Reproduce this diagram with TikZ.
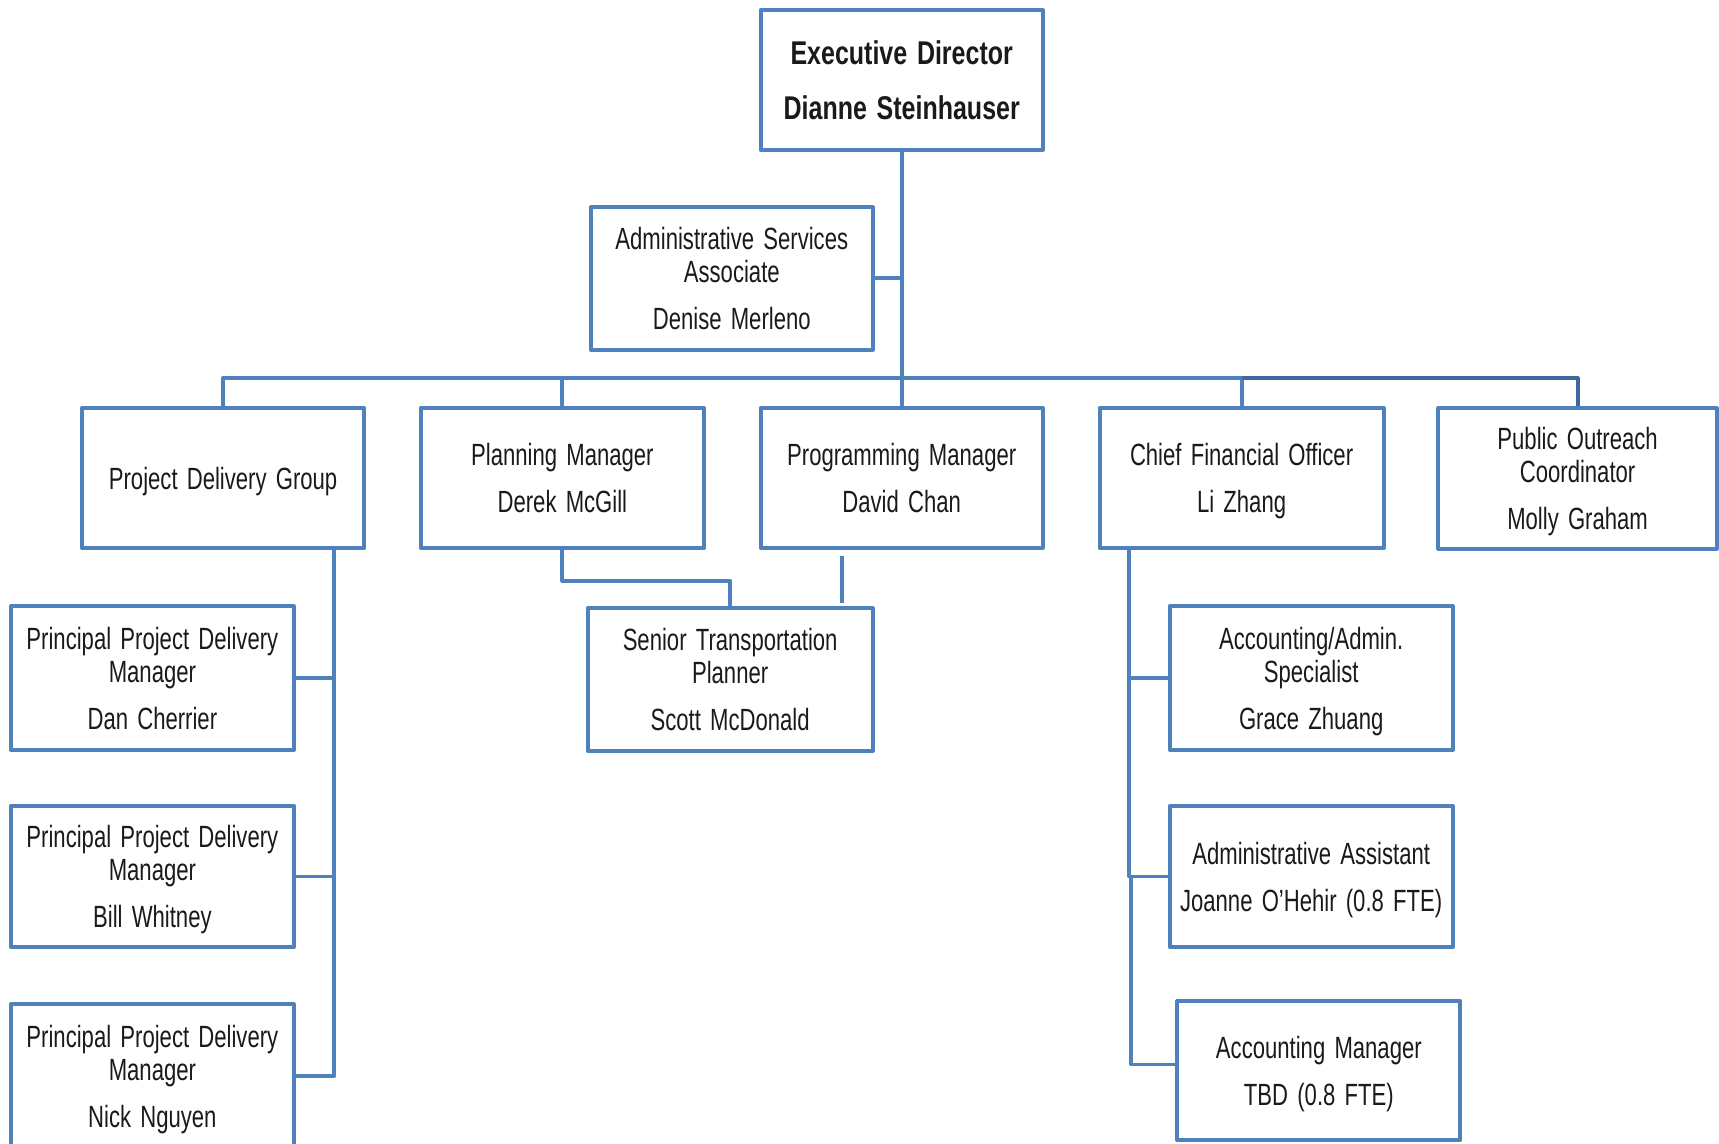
\documentclass[tikz,border=0pt]{standalone}
\usepackage{fontspec}
\newfontfamily\orgfont[FakeStretch=0.72,WordSpace=1.5]{Liberation Sans}
\newfontfamily\execfont[FakeStretch=0.76,WordSpace=1.4]{Liberation Sans}
\definecolor{orgblue}{HTML}{4F81BD}
\definecolor{orgdark}{HTML}{41689A}
\definecolor{orgtext}{HTML}{1A1A1A}
\tikzset{
  orgbox/.style={draw=orgblue, line width=3.6pt, line join=round, fill=white,
    rectangle, inner sep=0pt, align=center, text=orgtext, text depth=0pt,
    font=\orgfont\fontsize{28}{30}\selectfont},
  link/.style={draw=orgblue, line width=3.6pt, line join=round},
  darklink/.style={draw=orgdark, line width=3.6pt, line join=round},
}
\begin{document}
\begin{tikzpicture}[x=1pt, y=-1pt]
\useasboundingbox (0,0) rectangle (1568,1043);
\clip (0,0) rectangle (1568,1043);
\fill[white] (0,0) rectangle (1568,1043);

% boxes
\node[orgbox, minimum width=257, minimum height=128,
  font=\execfont\bfseries\fontsize{30}{50}\selectfont] (exec) at (822.5,73)
  {Executive Director\\Dianne Steinhauser};
\node[orgbox, minimum width=257, minimum height=130] (admin) at (667.5,254)
  {Administrative Services\\Associate\\[13pt]Denise Merleno};
\node[orgbox, minimum width=257, minimum height=128] (pdg) at (203.5,436)
  {Project Delivery Group};
\node[orgbox, minimum width=258, minimum height=128] (plan) at (513,436)
  {Planning Manager\\[13pt]Derek McGill};
\node[orgbox, minimum width=257, minimum height=128] (prog) at (822.5,436)
  {Programming Manager\\[13pt]David Chan};
\node[orgbox, minimum width=259, minimum height=128] (cfo) at (1132.5,436)
  {Chief Financial Officer\\[13pt]Li Zhang};
\node[orgbox, minimum width=254, minimum height=128] (pub) at (1439,436.5)
  {Public Outreach\\Coordinator\\[13pt]Molly Graham};
\node[orgbox, minimum width=260, minimum height=130] (senior) at (666,620)
  {Senior Transportation\\Planner\\[13pt]Scott McDonald};
\node[orgbox, minimum width=258, minimum height=131] (ppdm1) at (139,618.5)
  {Principal Project Delivery\\Manager\\[13pt]Dan Cherrier};
\node[orgbox, minimum width=258, minimum height=129] (ppdm2) at (139,799.5)
  {Principal Project Delivery\\Manager\\[13pt]Bill Whitney};
\node[orgbox, minimum width=258, minimum height=131] (ppdm3) at (139,981.5)
  {Principal Project Delivery\\Manager\\[13pt]Nick Nguyen};
\node[orgbox, minimum width=258, minimum height=131] (acc) at (1196,618.5)
  {Accounting/Admin.\\Specialist\\[13pt]Grace Zhuang};
\node[orgbox, minimum width=258, minimum height=129] (asst) at (1196,799.5)
  {Administrative Assistant\\[13pt]Joanne O’Hehir (0.8 FTE)};
\node[orgbox, minimum width=258, minimum height=127] (accmgr) at (1203,976.5)
  {Accounting Manager\\[13pt]TBD (0.8 FTE)};

% bus
\coordinate (bus) at (822.5,345);
\coordinate (pdgtrunk) at (305,500);
\coordinate (cfotrunk) at (1030,500);

\draw[link] (exec.south) -- (bus);
\draw[link] (admin.east) -- (admin.east -| bus);
\draw[link] (pdg.north) |- (bus);
\draw[link] (plan.north) -- (plan.north |- bus);
\draw[link] (prog.north) -- (bus);
\draw[link] (cfo.north) |- (bus);
\draw[darklink] (pub.north) |- (cfo.north |- bus);

% planning -> senior
\draw[link] (plan.south) -- ++(0,28) -| (senior.north);
\draw[link] ([xshift=-54.5pt,yshift=-5pt]prog.south) -- ([xshift=-54.5pt,yshift=-48pt]prog.south);

% project delivery group children
\draw[link] (pdgtrunk) |- (ppdm3.east);
\draw[link] (ppdm1.east) -- (ppdm1.east -| pdgtrunk);
\draw[link] (ppdm2.east) -- (ppdm2.east -| pdgtrunk);

% CFO children
\draw[link] (cfotrunk) |- (asst.west);
\draw[link] (acc.west) -- (acc.west -| cfotrunk);
\draw[link] ([xshift=2pt]asst.west -| cfotrunk) |- ([yshift=5.5pt]accmgr.west);
\end{tikzpicture}
\end{document}
